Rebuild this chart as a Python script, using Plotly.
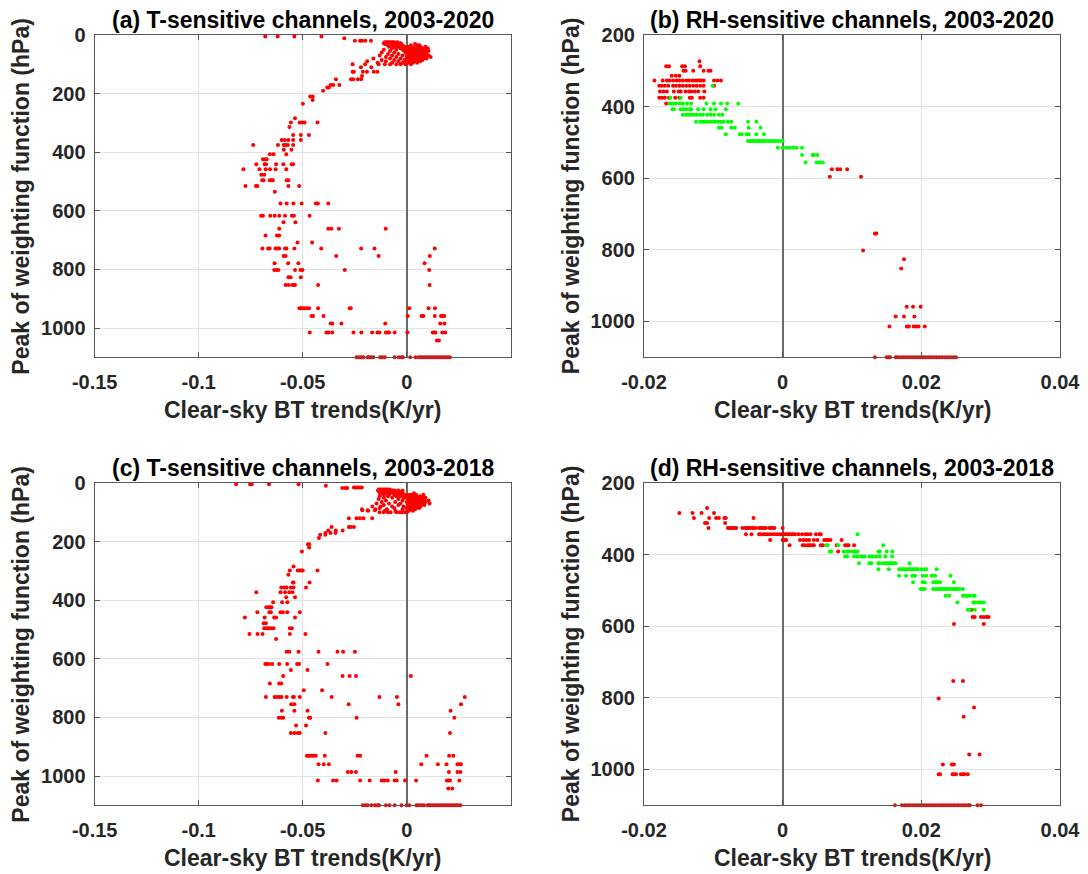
import plotly.graph_objects as go

# ---------------- Panel (a): T-sensitive channels, 2003-2020 ----------------
a_levels = [5, 11, 20, 25, 28, 31, 35, 40, 45, 50, 55, 60, 65, 70, 75, 80, 85, 90, 95,
            100, 110, 125, 140, 151, 171, 179, 190, 210, 222, 235, 284, 299, 314, 341,
            358, 375, 392, 407, 424, 441, 458, 477, 496, 515, 535, 575, 617, 639, 661,
            684, 708, 729, 754, 779, 802, 827, 853, 933, 959, 985, 1015, 1043, 1100]
a_trends = [
    [-0.068, -0.062, -0.054, -0.041],
    [-0.030],
    [-0.0249, -0.0224, -0.0215, -0.0199, -0.0172],
    [-0.0105, -0.0098, -0.009, -0.0083, -0.0075, -0.0068, -0.006, -0.0045],
    [-0.011, -0.0102, -0.0094, -0.0086, -0.0078, -0.007, -0.0062, -0.0052, -0.004, -0.0028],
    [-0.0105, -0.0097, -0.0089, -0.008, -0.007, -0.006, -0.005, -0.0035, 0.004],
    [-0.009, -0.008, -0.0065, -0.005, -0.003, -0.002, 0.002, 0.005, 0.0061],
    [-0.0085, -0.0055, -0.004, -0.002, -0.001, 0.0005, 0.0025, 0.0045, 0.0065, 0.009],
    [-0.007, -0.003, -0.0015, 0.0, 0.0015, 0.003, 0.0045, 0.006, 0.0075, 0.0101],
    [-0.011, -0.005, -0.002, 0.0005, 0.002, 0.0035, 0.005, 0.0065, 0.008, 0.0095],
    [-0.008, -0.001, 0.001, 0.0025, 0.004, 0.0055, 0.007, 0.0085, 0.0105],
    [-0.012, -0.006, -0.0005, 0.0015, 0.003, 0.0045, 0.006, 0.0075, 0.009],
    [-0.009, -0.004, 0.0, 0.002, 0.0035, 0.005, 0.0065, 0.008, 0.0095],
    [-0.013, -0.007, -0.002, 0.001, 0.0025, 0.004, 0.0055, 0.007, 0.0085, 0.0105],
    [-0.010, -0.005, 0.0, 0.0015, 0.003, 0.0045, 0.006, 0.0075, 0.009, 0.0115],
    [-0.016, -0.008, -0.003, 0.0005, 0.002, 0.0035, 0.005, 0.0065, 0.008, 0.0095],
    [-0.012, -0.006, -0.001, 0.0015, 0.003, 0.0045, 0.006, 0.0075],
    [-0.019, -0.010, -0.004, 0.0, 0.002, 0.0035, 0.005, 0.0065],
    [-0.014, -0.007, -0.002, 0.001, 0.003, 0.005],
    [-0.026, -0.020, -0.0135, -0.0105, -0.008, -0.005, -0.003, -0.0005, 0.002],
    [-0.022, -0.017],
    [-0.026, -0.0254, -0.0211, -0.0191, -0.0158, -0.0141],
    [-0.0215],
    [-0.034, -0.0268, -0.0257, -0.0235, -0.0219],
    [-0.0366, -0.0353, -0.0324],
    [-0.0382, -0.0374],
    [-0.0402],
    [-0.0464, -0.0452],
    [-0.0452],
    [-0.0499],
    [-0.0537],
    [-0.0557, -0.0515, -0.0503, -0.0491, -0.0429],
    [-0.0564],
    [-0.0546, -0.0509, -0.047],
    [-0.0601, -0.0586, -0.0569, -0.0546, -0.0509],
    [-0.0738, -0.0619, -0.0591, -0.0582, -0.0571, -0.0546],
    [-0.0591, -0.0554],
    [-0.0658, -0.064, -0.0579],
    [-0.0691, -0.0681, -0.0673],
    [-0.0723, -0.0683, -0.0676, -0.0628, -0.0593, -0.0553, -0.0546],
    [-0.0785, -0.0708, -0.0678, -0.0657, -0.063, -0.0579],
    [-0.0699, -0.0685],
    [-0.0695, -0.0688, -0.0658, -0.065, -0.0643, -0.0577, -0.0569],
    [-0.0775, -0.0725, -0.0718, -0.0569, -0.0517],
    [-0.0634],
    [-0.0607, -0.0577, -0.0545, -0.0505, -0.0437, -0.0427, -0.0377],
    [-0.070, -0.0691, -0.0656, -0.0635, -0.0613, -0.0585, -0.0552, -0.0542, -0.0467],
    [-0.0592, -0.0535],
    [-0.0613, -0.0377, -0.0362, -0.0326, -0.0101],
    [-0.0679, -0.0624, -0.0613],
    [-0.0525, -0.0455],
    [-0.0694, -0.0666, -0.0659, -0.0631, -0.0621, -0.0613, -0.0585, -0.0578, -0.054, -0.0411, -0.0219, -0.0155, 0.0135],
    [-0.0591, -0.0582, -0.0339, -0.0135, 0.0111],
    [-0.0635, -0.057, -0.0521, 0.0086],
    [-0.0637, -0.0625, -0.0617, -0.0537, -0.0511, -0.0501, -0.0298, 0.0108],
    [-0.0569, -0.0558, -0.0509],
    [-0.0582, -0.0567, -0.055, -0.0542, -0.0537, -0.0426, 0.011],
    [-0.0516, -0.0509, -0.0502, -0.0492, -0.0481, -0.0469, -0.0426, -0.0274, -0.0269, 0.0013, 0.0105, 0.0136],
    [-0.0458, -0.045, -0.040, 0.0005, 0.0071, 0.008, 0.0135, 0.0165, 0.0173, 0.0181],
    [-0.0366, -0.0358, -0.0314, -0.0103, 0.0161, 0.0181],
    [-0.0466, -0.0386, -0.0376, -0.0358, -0.0256, -0.0218, -0.0166, -0.0141, -0.0131, -0.010,
     -0.0091, -0.0085, -0.0058, 0.0003, 0.0125, 0.0131, 0.0138, 0.0171, 0.0185],
    [0.0145, 0.0155],
    [-0.0241, -0.0231, -0.0219, -0.0208, -0.0188, -0.0181, -0.0171, -0.0161, -0.0128, -0.0118,
     -0.0105, -0.0058, -0.0038, -0.0025, -0.0018, 0.0017, 0.0042, 0.0058, 0.0067, 0.0078,
     0.0088, 0.0098, 0.0108, 0.0118, 0.0128, 0.0138, 0.0148, 0.0158, 0.0168, 0.0178,
     0.0188, 0.0198, 0.0208],
]

# ---------------- Panel (c): T-sensitive channels, 2003-2018 ----------------
c_levels = [4, 9, 15, 17, 22, 26, 30, 35, 40, 45, 50, 55, 60, 65, 70, 75, 80, 85, 90, 93,
            95, 100, 120, 150, 162, 171, 177, 188, 209, 220, 234, 285, 299, 313, 340, 357,
            373, 390, 407, 424, 441, 459, 479, 496, 515, 532, 576, 618, 638, 659, 684, 707,
            730, 755, 777, 801, 828, 853, 931, 960, 986, 1015, 1043, 1100]
c_trends = [
    [-0.082, -0.0753, -0.0745, -0.0662, -0.052],
    [-0.0389],
    [-0.0254, -0.0244, -0.0236, -0.0224, -0.0216],
    [-0.031, -0.0294, -0.0286],
    [-0.0135, -0.0128, -0.012, -0.0113, -0.0105, -0.0098, -0.009, -0.0082],
    [-0.0138, -0.013, -0.0122, -0.0115, -0.0107, -0.010, -0.0092, -0.0085, -0.0077, -0.007, -0.006, -0.004, -0.002],
    [-0.0133, -0.0125, -0.0117, -0.011, -0.0102, -0.0094, -0.0086, -0.0078, -0.0065, -0.005, -0.0035, -0.0025],
    [-0.0128, -0.012, -0.011, -0.0095, -0.008, -0.006, -0.004, -0.003, -0.002, 0.0035],
    [-0.011, -0.0085, -0.006, -0.0045, -0.0035, -0.002, -0.001, 0.0005, 0.002, 0.0045, 0.008],
    [-0.013, -0.009, -0.005, -0.003, -0.001, 0.0005, 0.002, 0.0035, 0.005, 0.0065],
    [-0.011, -0.007, -0.0015, 0.0, 0.0015, 0.003, 0.0045, 0.006, 0.0075, 0.009],
    [-0.0135, -0.004, 0.0005, 0.002, 0.0035, 0.005, 0.0065, 0.008],
    [-0.010, -0.002, 0.001, 0.0025, 0.004, 0.0055, 0.007, 0.0085, 0.0105],
    [-0.012, -0.0055, 0.0, 0.0015, 0.003, 0.0045, 0.006, 0.0075, 0.009],
    [-0.0145, -0.0085, -0.003, 0.0005, 0.002, 0.0035, 0.005, 0.0065, 0.008, 0.011],
    [-0.011, -0.004, 0.001, 0.0025, 0.004, 0.0055, 0.007, 0.0085],
    [-0.0165, -0.0125, -0.007, -0.0015, 0.0005, 0.002, 0.0035, 0.005, 0.0065],
    [-0.013, -0.006, 0.0, 0.0015, 0.003, 0.0045, 0.006],
    [-0.0215, -0.015, -0.0095, -0.002, 0.0005, 0.002, 0.004],
    [-0.0213, -0.0188, -0.0153],
    [-0.0185, -0.0105, -0.0055, 0.001, 0.003],
    [-0.013, -0.0111, -0.0091, -0.0078, -0.005, -0.0033, -0.0022, -0.0008, 0.0],
    [-0.0278, -0.0241, -0.0225, -0.0208, -0.0166],
    [-0.0361, -0.0278, -0.0269, -0.0254],
    [-0.0377, -0.0341, -0.0308],
    [-0.0391, -0.0366, -0.0342],
    [-0.0416, -0.0391],
    [-0.0422],
    [-0.0475, -0.0469],
    [-0.0469],
    [-0.0504],
    [-0.0544],
    [-0.0562, -0.0524, -0.0515, -0.0507, -0.050, -0.0429],
    [-0.0569],
    [-0.0547, -0.0544, -0.0467],
    [-0.0603, -0.0587, -0.0577, -0.0557, -0.0544, -0.0484],
    [-0.0723, -0.0607, -0.0585, -0.0565, -0.0549],
    [-0.0579, -0.0537],
    [-0.0642, -0.0599, -0.0574],
    [-0.0675, -0.0665, -0.0657, -0.065],
    [-0.0718, -0.066, -0.0653, -0.0607, -0.0595, -0.0574, -0.0514],
    [-0.0778, -0.0683, -0.0637, -0.0628, -0.0537],
    [-0.0688, -0.0677],
    [-0.0685, -0.0673, -0.0662, -0.0653, -0.064, -0.0562, -0.0552],
    [-0.0756, -0.0717, -0.0693, -0.0562, -0.0487],
    [-0.0628],
    [-0.0577, -0.0564, -0.052, -0.0424, -0.0333, -0.0306, -0.0249],
    [-0.068, -0.0672, -0.0663, -0.0647, -0.0613, -0.0575, -0.0527, -0.0517, -0.0381],
    [-0.0557, -0.0477],
    [-0.0594, -0.0308, -0.0274, -0.0244, 0.002],
    [-0.0658, -0.0613, -0.0603],
    [-0.0495, -0.0407],
    [-0.0677, -0.0635, -0.0623, -0.0612, -0.0602, -0.0577, -0.0547, -0.0542, -0.0514, -0.0361, -0.0131, -0.0047, 0.0279],
    [-0.0555, -0.054, -0.0279, -0.004, 0.0261],
    [-0.060, -0.054, -0.0477, 0.0211],
    [-0.0615, -0.0602, -0.0594, -0.047, -0.0464, -0.0241, 0.0229],
    [-0.0532, -0.0484],
    [-0.0557, -0.054, -0.0524, -0.0514, -0.0391, 0.0208],
    [-0.048, -0.0474, -0.0466, -0.0457, -0.0447, -0.0437, -0.0394, -0.0236, -0.0224, 0.0095, 0.0204, 0.0224],
    [-0.0424, -0.0399, -0.0374, 0.007, 0.015, 0.0191, 0.0244, 0.0253, 0.0261],
    [-0.0283, -0.0266, -0.0244, -0.0053, 0.0203, 0.0244, 0.0258],
    [-0.0427, -0.0354, -0.0337, -0.0224, -0.0178, -0.012, -0.0108, -0.0091, -0.0058, -0.0048,
     -0.0008, 0.0045, 0.0193, 0.020, 0.0208, 0.0253],
    [0.020, 0.0219],
    [-0.0211, -0.020, -0.0188, -0.017, -0.0153, -0.0141, -0.0133, -0.010, -0.0083, -0.0058,
     -0.0025, 0.0, 0.0013, 0.0047, 0.0058, 0.0071, 0.0083, 0.010, 0.0108, 0.0116, 0.0128,
     0.0138, 0.0148, 0.0158, 0.0168, 0.0178, 0.0188, 0.0198, 0.0208, 0.0218, 0.0228,
     0.0238, 0.0246, 0.0258],
]

# ---------------- Panel (b): RH-sensitive channels, 2003-2020 ----------------
b_red_levels = [273, 287, 300, 314, 327, 342, 358, 375, 391, 575, 596, 754, 802, 826, 852,
                959, 986, 1014, 1100]
b_red_trends = [
    [-0.0120],
    [-0.0168, -0.0164, -0.0145, -0.0141, -0.0119],
    [-0.0143, -0.014, -0.0129, -0.0114, -0.0107, -0.0104],
    [-0.016, -0.0154, -0.0149],
    [-0.0185, -0.0173, -0.0167, -0.0163, -0.0158, -0.0153, -0.0149, -0.0144, -0.0139, -0.0135,
     -0.013, -0.0126, -0.0123, -0.012, -0.0117, -0.0114, -0.0099, -0.0094, -0.0089],
    [-0.0178, -0.0174, -0.017, -0.0165, -0.0158, -0.0154, -0.0149, -0.0144, -0.0139, -0.0134,
     -0.0129, -0.0124, -0.0119, -0.0114, -0.0099],
    [-0.0177, -0.0172, -0.0167, -0.0157, -0.015, -0.0147, -0.014, -0.0135, -0.0132, -0.0127,
     -0.0122, -0.0113],
    [-0.0178, -0.0174, -0.017, -0.0164, -0.0155, -0.0149, -0.0134, -0.0131, -0.0119, -0.0114],
    [-0.0168],
    [0.0071, 0.0079, 0.0083, 0.0093],
    [0.0068, 0.0113],
    [0.0133, 0.0135],
    [0.0116],
    [0.0175],
    [0.0171],
    [0.0179, 0.0188, 0.0199],
    [0.0163, 0.0175, 0.019],
    [0.0154, 0.0179, 0.0182, 0.0189, 0.0193, 0.0196, 0.0205],
    [0.0133, 0.015, 0.0153, 0.0155, 0.0163, 0.0166, 0.017, 0.0174, 0.0178, 0.0182, 0.0186,
     0.019, 0.0194, 0.0198, 0.0202, 0.0206, 0.021, 0.0214, 0.0218, 0.0222, 0.0226, 0.023,
     0.0234, 0.0238, 0.0242, 0.0246, 0.025],
]
b_green_levels = [342, 375, 391, 407, 423, 442, 459, 477, 496, 515, 535, 556]
b_green_trends = [
    [-0.0101],
    [-0.0162, -0.0147],
    [-0.0163, -0.0159, -0.0154, -0.0149, -0.0144, -0.0138, -0.0132, -0.011, -0.0099, -0.0089,
     -0.008, -0.0064],
    [-0.0159, -0.0157, -0.0147, -0.0143, -0.0139, -0.0134, -0.0132, -0.0122, -0.0114, -0.0104,
     -0.0097, -0.0082],
    [-0.0144, -0.0139, -0.0135, -0.0132, -0.0128, -0.0124, -0.0119, -0.0115, -0.0109, -0.0104,
     -0.0099, -0.0092, -0.0087],
    [-0.0125, -0.0119, -0.0115, -0.0112, -0.0108, -0.0104, -0.010, -0.0097, -0.0093, -0.0089,
     -0.0085, -0.0079, -0.0074, -0.005, -0.0038],
    [-0.0092, -0.0088, -0.0074, -0.0069, -0.0049, -0.0032],
    [-0.0082, -0.0062, -0.0059, -0.0052, -0.0049, -0.0038, -0.0027],
    [-0.005, -0.0047, -0.0044, -0.0042, -0.0039, -0.0037, -0.0034, -0.0032, -0.0029, -0.0027,
     -0.0024, -0.002, -0.0017, -0.0014, -0.0012, -0.0008, -0.0004, 0.0],
    [-0.0007, 0.0, 0.0005, 0.001, 0.0015, 0.002, 0.0028],
    [0.0028, 0.0043, 0.0045, 0.005],
    [0.0033, 0.0049, 0.0053, 0.0058],
]

# ---------------- Panel (d): RH-sensitive channels, 2003-2018 ----------------
d_red_levels = [270, 284, 298, 312, 326, 343, 359, 374, 391, 554, 574, 594, 753, 802, 827,
                853, 958, 986, 1013, 1100]
d_red_trends = [
    [-0.0109],
    [-0.0149, -0.013, -0.0117, -0.0099],
    [-0.0128, -0.0106, -0.0096, -0.0092, -0.0084, -0.0082, -0.0042],
    [-0.0112, -0.0109, -0.0083],
    [-0.0107, -0.0079, -0.0077, -0.0074, -0.0072, -0.0069, -0.0067, -0.0058, -0.0054, -0.0052,
     -0.0049, -0.0047, -0.0044, -0.0042, -0.0039, -0.0034, -0.0032, -0.0029, -0.0027, -0.0024,
     -0.0019, -0.0017, -0.0014, -0.0012, 0.0],
    [-0.0053, -0.0045, -0.0034, -0.0032, -0.0028, -0.0025, -0.0022, -0.0018, -0.0014, -0.001,
     -0.0007, -0.0003, 0.0, 0.0003, 0.0005, 0.0008, 0.001, 0.0013, 0.0015, 0.0018, 0.0023,
     0.0028, 0.0033, 0.0036, 0.004, 0.0048, 0.0053, 0.0055],
    [-0.0018, 0.0, 0.0003, 0.0005, 0.0025, 0.003, 0.0034, 0.0038, 0.0045, 0.005, 0.006, 0.0063,
     0.0066, 0.0069, 0.0085],
    [0.001, 0.0029, 0.0031, 0.0035, 0.0038, 0.004, 0.0043, 0.0045, 0.0055, 0.0058, 0.0078,
     0.009, 0.0093, 0.0095, 0.0103],
    [0.008],
    [0.0272],
    [0.0274, 0.0277, 0.0286, 0.029, 0.0294, 0.0297],
    [0.0247, 0.029],
    [0.0246, 0.026],
    [0.0225],
    [0.0276],
    [0.0261],
    [0.0269, 0.0284],
    [0.0231, 0.0244, 0.0247],
    [0.0225, 0.0227, 0.0245, 0.0247, 0.025, 0.0257, 0.026, 0.0262, 0.0267],
    [0.0162, 0.0172, 0.0176, 0.018, 0.0184, 0.0188, 0.0192, 0.0196, 0.020, 0.0204, 0.0208,
     0.0212, 0.0216, 0.022, 0.0224, 0.0228, 0.0232, 0.0236, 0.024, 0.0244, 0.0248, 0.0252,
     0.0256, 0.026, 0.0264, 0.0268, 0.027, 0.0281, 0.0286],
]
d_green_levels = [343, 374, 391, 405, 424, 441, 459, 477, 496, 515, 534, 554]
d_green_trends = [
    [0.0108],
    [0.0063, 0.0065, 0.008, 0.0145],
    [0.0068, 0.007, 0.0088, 0.0093, 0.0095, 0.010, 0.0103, 0.0105, 0.0108, 0.0138, 0.014,
     0.015, 0.0158],
    [0.009, 0.0093, 0.0103, 0.0108, 0.0113, 0.0115, 0.0118, 0.0125, 0.0128, 0.013, 0.0135,
     0.014, 0.0148, 0.0158],
    [0.011, 0.0125, 0.0128, 0.0138, 0.014, 0.0145, 0.0148, 0.015, 0.0153, 0.0155, 0.0158,
     0.016, 0.0163, 0.0183],
    [0.0138, 0.0153, 0.0168, 0.017, 0.0173, 0.0175, 0.0178, 0.018, 0.0183, 0.0185, 0.0188,
     0.019, 0.0193, 0.0195, 0.020, 0.0205, 0.0207, 0.0222],
    [0.0168, 0.0178, 0.0187, 0.0191, 0.0202, 0.0207, 0.0215, 0.022, 0.0242],
    [0.0188, 0.0202, 0.0205, 0.0217, 0.022, 0.0222, 0.0225, 0.0227, 0.0247],
    [0.0199, 0.0202, 0.0205, 0.0217, 0.022, 0.0222, 0.0225, 0.0227, 0.023, 0.0232, 0.0235,
     0.0237, 0.024, 0.0242, 0.0245, 0.0247, 0.025, 0.0252, 0.0255, 0.026],
    [0.0235, 0.024, 0.026, 0.0262, 0.0265, 0.0267, 0.027, 0.0275, 0.0277],
    [0.0252, 0.0275, 0.0277, 0.0282, 0.0286, 0.029],
    [0.0267, 0.027, 0.0277, 0.029],
]

titles = ["(a) T-sensitive channels, 2003-2020", "(b) RH-sensitive channels, 2003-2020",
          "(c) T-sensitive channels, 2003-2018", "(d) RH-sensitive channels, 2003-2018"]
x_title = "Clear-sky BT trends(K/yr)"
y_title = "Peak of weighting function (hPa)"
t_xticks = [-0.15, -0.1, -0.05, 0]
t_xticktext = ["-0.15", "-0.1", "-0.05", "0"]
rh_xticks = [-0.02, 0, 0.02, 0.04]
rh_xticktext = ["-0.02", "0", "0.02", "0.04"]
t_yticks = [0, 200, 400, 600, 800, 1000]
rh_yticks = [200, 400, 600, 800, 1000]

RED = "#ff0000"
GREEN = "#00ff00"
FONT = "Liberation Sans"
W, H = 1088, 874


def flatten(levels, trends):
    xs, ps = [], []
    for lvl, row in zip(levels, trends):
        for v in row:
            xs.append(v)
            ps.append(lvl)
    return xs, ps


fig = go.Figure()

panels = [
    ("x", "y", [(a_levels, a_trends, RED)]),
    ("x2", "y2", [(b_red_levels, b_red_trends, RED), (b_green_levels, b_green_trends, GREEN)]),
    ("x3", "y3", [(c_levels, c_trends, RED)]),
    ("x4", "y4", [(d_red_levels, d_red_trends, RED), (d_green_levels, d_green_trends, GREEN)]),
]
for xa, ya, series in panels:
    for levels, trends, col in series:
        xs, ps = flatten(levels, trends)
        fig.add_trace(go.Scatter(x=xs, y=ps, xaxis=xa, yaxis=ya, mode="markers",
                                 marker=dict(color=col, size=4, line=dict(width=0)),
                                 cliponaxis=False, showlegend=False, hoverinfo="skip"))

# geometry (pixels)
left_x = (94.7, 510.7)
right_x = (644.0, 1060.0)
top_y = (35.0, 357.3)
bot_y = (483.0, 805.3)


def xdom(px):
    return [px[0] / W, px[1] / W]


def ydom(py):
    return [1 - py[1] / H, 1 - py[0] / H]


axcommon = dict(showline=True, mirror="ticks", linecolor="#555555", linewidth=1.2,
                ticks="inside", ticklen=5, tickcolor="#555555", tickwidth=1,
                showgrid=True, gridcolor="#e3e3e3", gridwidth=1,
                tickfont=dict(family=FONT, size=20, color="#262626", weight="bold"))

layout_axes = {}
specs = [
    ("xaxis", "yaxis", left_x, top_y, "t"),
    ("xaxis2", "yaxis2", right_x, top_y, "rh"),
    ("xaxis3", "yaxis3", left_x, bot_y, "t"),
    ("xaxis4", "yaxis4", right_x, bot_y, "rh"),
]
for i, (xk, yk, xp, yp, kind) in enumerate(specs):
    yanchor = "y" if i == 0 else "y%d" % (i + 1)
    xanchor = "x" if i == 0 else "x%d" % (i + 1)
    if kind == "t":
        xr, xt, xtt, yr, yt = [-0.15, 0.05], t_xticks, t_xticktext, [1100, 0], t_yticks
    else:
        xr, xt, xtt, yr, yt = [-0.02, 0.04], rh_xticks, rh_xticktext, [1100, 200], rh_yticks
    layout_axes[xk] = dict(domain=xdom(xp), anchor=yanchor, range=xr, tickmode="array",
                           tickvals=xt, ticktext=xtt, zeroline=True, zerolinecolor="#6a6a6a",
                           zerolinewidth=1.5, ticklabelstandoff=7, **axcommon)
    layout_axes[yk] = dict(domain=ydom(yp), anchor=xanchor, range=yr, tickmode="array",
                           tickvals=yt, ticktext=[str(v) for v in yt], zeroline=False,
                           ticklabelstandoff=4, **axcommon)

annotations = []
for i, (xk, yk, xp, yp, kind) in enumerate(specs):
    cx = (xp[0] + xp[1]) / 2 / W
    annotations.append(dict(text=titles[i], x=cx, y=1 - yp[0] / H, xref="paper", yref="paper",
                            xanchor="center", yanchor="bottom", yshift=0, showarrow=False,
                            font=dict(family=FONT, size=23, color="#000000", weight="bold")))
    annotations.append(dict(text=x_title, x=cx, y=1 - (yp[1] + 53) / H, xref="paper",
                            yref="paper", xanchor="center", yanchor="middle", showarrow=False,
                            font=dict(family=FONT, size=23, color="#262626", weight="bold")))
    yx = 21.5 if kind == "t" else 571.0
    annotations.append(dict(text=y_title, x=yx / W, y=1 - ((yp[0] + yp[1]) / 2) / H,
                            xref="paper", yref="paper", xanchor="center", yanchor="middle",
                            textangle=-90, showarrow=False,
                            font=dict(family=FONT, size=23, color="#262626", weight="bold")))

fig.update_layout(width=W, height=H,
                  margin=dict(l=0, r=0, t=0, b=0, pad=0, autoexpand=False),
                  paper_bgcolor="white", plot_bgcolor="white",
                  font=dict(family=FONT, color="#262626"),
                  annotations=annotations, **layout_axes)

fig.write_html("out.html", config={"displayModeBar": False},
               post_script="document.body.style.margin='0px';document.body.style.padding='0px';")
